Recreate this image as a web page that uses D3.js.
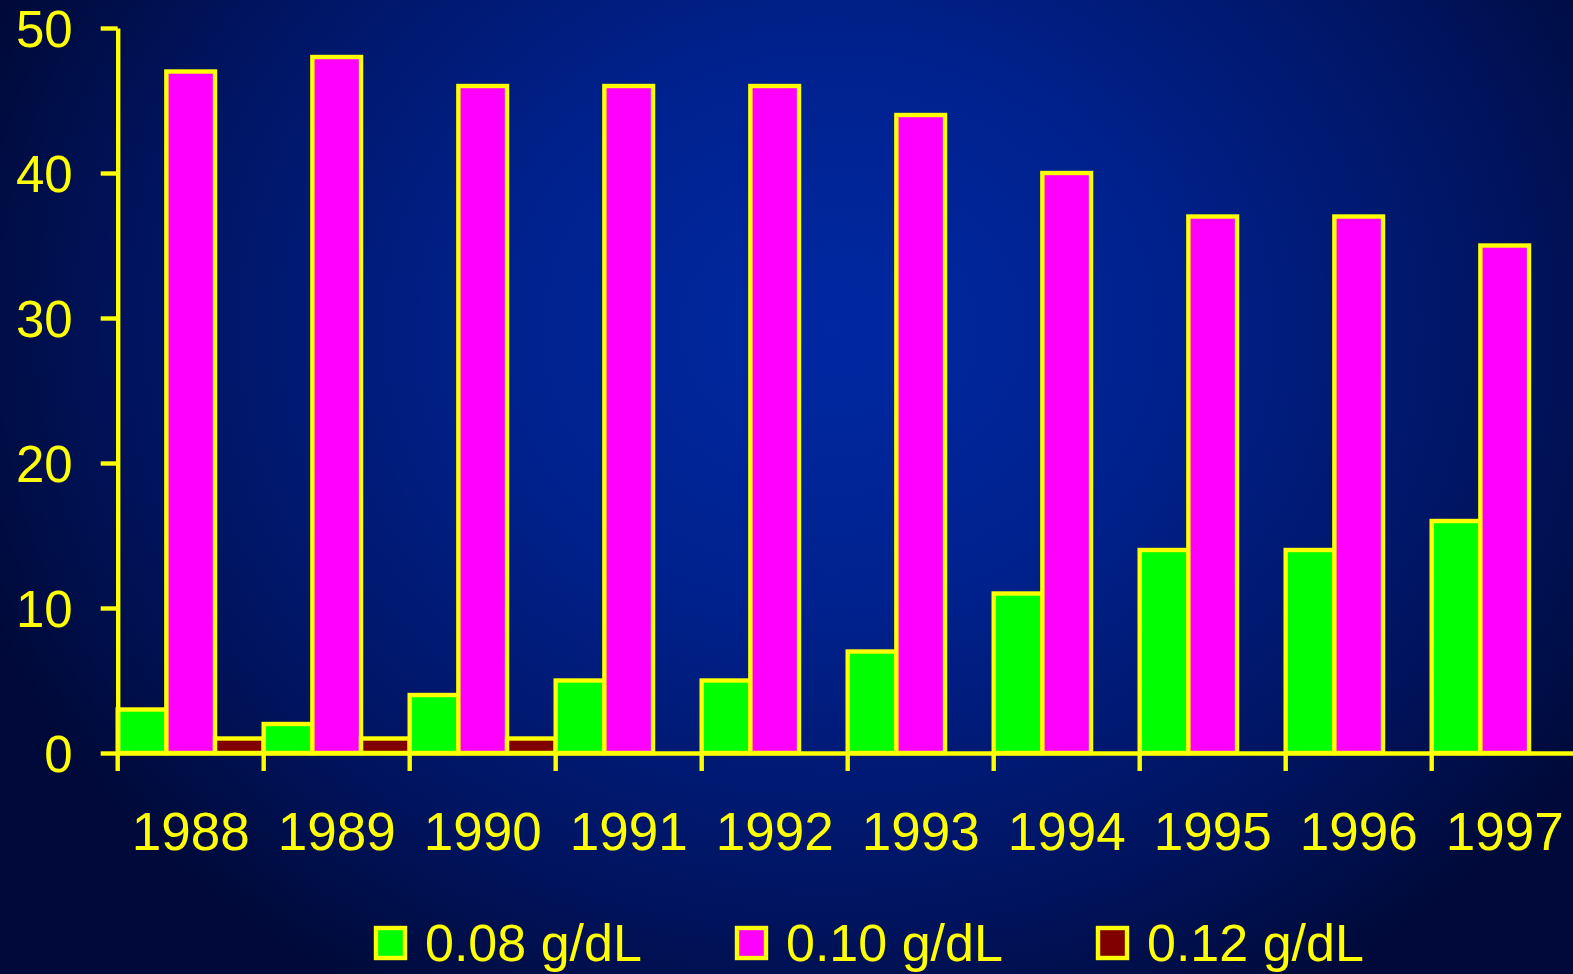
<!DOCTYPE html>
<html>
<head>
<meta charset="utf-8">
<script src="https://cdn.jsdelivr.net/npm/d3@7"></script>
<style>
  html, body { margin: 0; padding: 0; background: #000b3a; overflow: hidden; }
  svg { display: block; font-family: "Liberation Sans", Arial, sans-serif; }
</style>
</head>
<body>
<svg id="chart" width="1573" height="974"></svg>
<script>
const years = ["1988","1989","1990","1991","1992","1993","1994","1995","1996","1997"];
const seriesNames = ["0.08 g/dL", "0.10 g/dL", "0.12 g/dL"];
const seriesColors = ["#00ff00", "#ff00ff", "#800000"];
const values008 = [3, 2, 4, 5, 5, 7, 11, 14, 14, 16];
const values010 = [47, 48, 46, 46, 46, 44, 40, 37, 37, 35];
const values012 = [1, 1, 1, 0, 0, 0, 0, 0, 0, 0];
const yTicks = [0, 10, 20, 30, 40, 50];

const allSeries = [values008, values010, values012];
const yellow = "#ffff00";
const SW = 4.4;

const svg = d3.select("#chart");
const W = 1573, H = 974;

// background gradient
const defs = svg.append("defs");
const grad = defs.append("radialGradient")
  .attr("id", "bg").attr("gradientUnits", "userSpaceOnUse")
  .attr("cx", 830).attr("cy", 330).attr("r", 900)
  .attr("gradientTransform", "translate(830,330) scale(1,0.85) translate(-830,-330)");
grad.append("stop").attr("offset", "0").attr("stop-color", "#0028a2");
grad.append("stop").attr("offset", "0.35").attr("stop-color", "#00228f");
grad.append("stop").attr("offset", "0.75").attr("stop-color", "#001461");
grad.append("stop").attr("offset", "1").attr("stop-color", "#000a3a");
svg.append("rect").attr("width", W).attr("height", H).attr("fill", "url(#bg)");

const x = d3.scaleBand().domain(years).range([117.7, 1577.7]).padding(0);
const xi = d3.scaleBand().domain(d3.range(seriesNames.length)).range([0, x.bandwidth()]).padding(0);
const y = d3.scaleLinear().domain([0, 50]).range([753, 28]);

// bars
const groups = svg.append("g").selectAll("g")
  .data(years).join("g")
  .attr("transform", d => `translate(${x(d)},0)`);

groups.selectAll("rect")
  .data((d, i) => allSeries.map((s, k) => ({ k, v: s[i] })))
  .join("rect")
  .attr("x", d => xi(d.k))
  .attr("width", xi.bandwidth())
  .attr("y", d => y(d.v))
  .attr("height", d => y(0) - y(d.v))
  .attr("fill", d => seriesColors[d.k])
  .attr("stroke", yellow)
  .attr("stroke-width", SW)
  .attr("stroke-linejoin", "miter");

// y axis
const yAxis = d3.axisLeft(y).tickValues(yTicks).tickSize(17).tickSizeOuter(0).tickPadding(28).tickFormat(d3.format("d"));
const gy = svg.append("g").attr("transform", "translate(117.7,0)").call(yAxis);
gy.select(".domain").attr("stroke", yellow).attr("stroke-width", SW);
gy.selectAll(".tick line").attr("stroke", yellow).attr("stroke-width", SW);
gy.selectAll(".tick text").attr("fill", yellow).attr("font-size", 51).attr("dy", "0.37em")
  .attr("font-family", "'Liberation Sans', Arial, sans-serif");

// x axis (labels at band centres)
const xAxis = d3.axisBottom(x).tickSize(0).tickSizeOuter(0).tickPadding(0);
const gx = svg.append("g").attr("transform", "translate(0,753)").call(xAxis);
gx.select(".domain").attr("stroke", yellow).attr("stroke-width", SW);
gx.selectAll(".tick text").attr("fill", yellow).attr("font-size", 53)
  .attr("y", 97).attr("dy", 0)
  .attr("font-family", "'Liberation Sans', Arial, sans-serif");

// x boundary ticks
svg.append("g").selectAll("line").data(years).join("line")
  .attr("x1", d => x(d)).attr("x2", d => x(d))
  .attr("y1", 753).attr("y2", 771)
  .attr("stroke", yellow).attr("stroke-width", SW);

// legend
const legendX = [376, 737, 1098];
const lg = svg.append("g").selectAll("g").data(seriesNames).join("g")
  .attr("transform", (d, i) => `translate(${legendX[i]},928)`);
lg.append("rect").attr("width", 29).attr("height", 30)
  .attr("fill", (d, i) => seriesColors[i])
  .attr("stroke", yellow).attr("stroke-width", SW);
lg.append("text").attr("x", 49).attr("y", 33)
  .attr("fill", yellow).attr("font-size", 52)
  .text(d => d);
</script>
</body>
</html>
